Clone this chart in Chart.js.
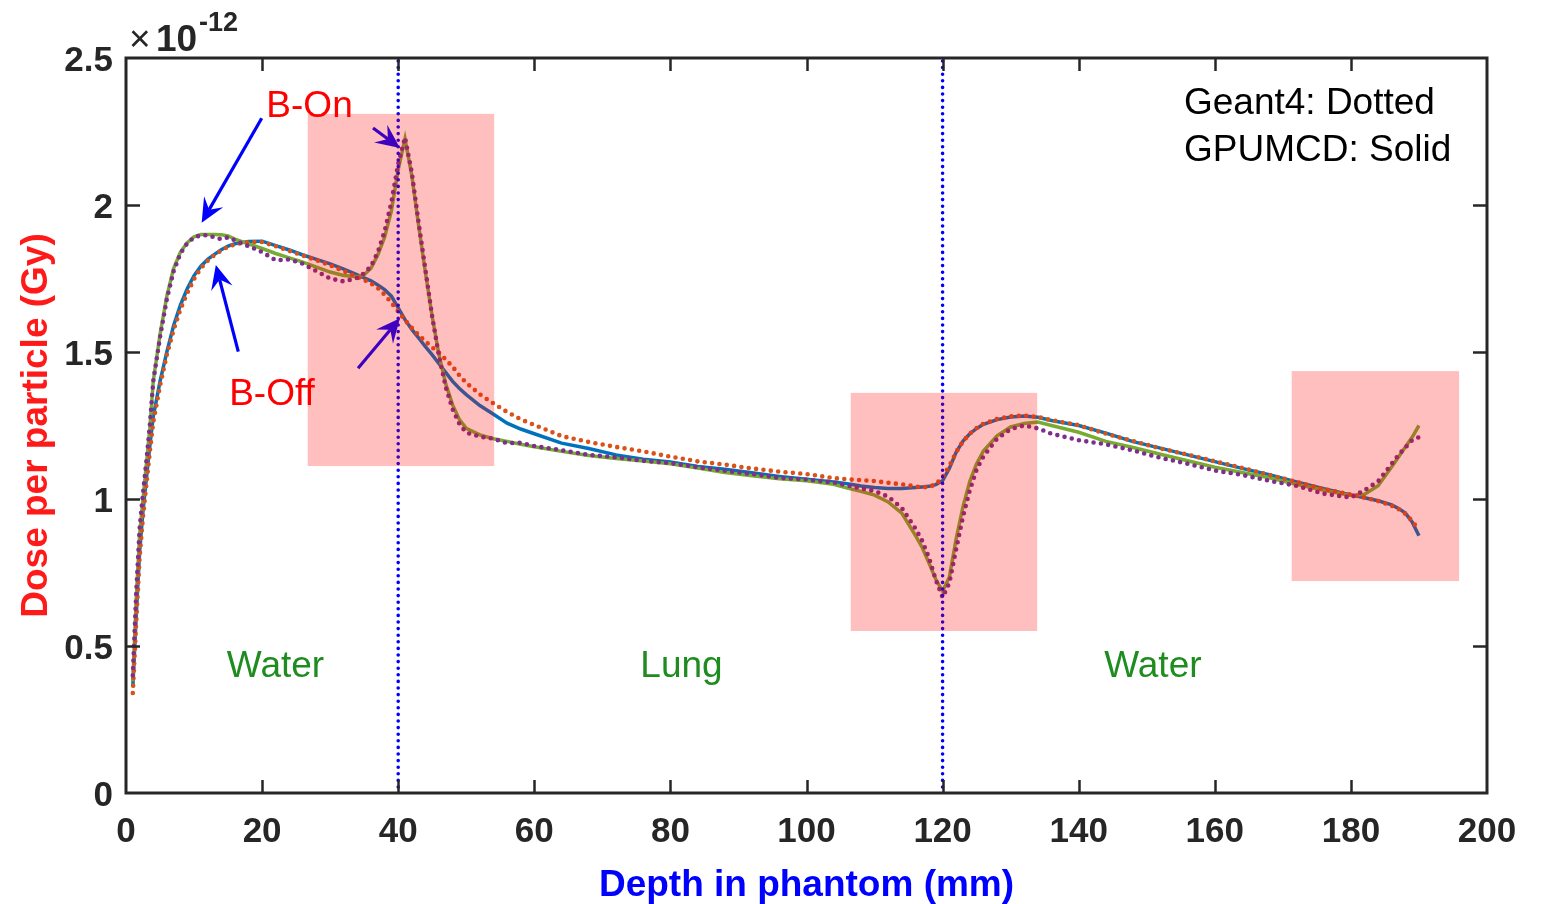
<!DOCTYPE html>
<html><head><meta charset="utf-8">
<script src="https://cdn.jsdelivr.net/npm/chart.js@4.4.1/dist/chart.umd.min.js"></script>
<style>html,body{margin:0;padding:0;background:#fff;} canvas{display:block;}</style>
</head><body>
<canvas id="c" width="1547" height="904"></canvas>
<script>
// ---------- data ----------
const depth = [1,1.5,2,2.5,3,3.5,4,
  5,6,7,8,9,10,11,12,13,14,15,16,
  18,20,22,24,26,28,30,32,34,
  35,36,37,38,39,40,41,42,43,44,45,46,47,48,49,50,
  52,54,56,58,60,
  64,68,72,76,80,84,88,92,96,100,104,
  106,108,110,112,114,116,
  117,118,119,120,121,122,123,124,125,126,
  128,130,132,134,136,
  140,144,148,152,156,160,164,168,172,176,180,
  182,184,186,
  187,188,189,190];

const bOffGpumcd = [0.36,0.60,0.82,0.96,1.07,1.18,1.28,
  1.40,1.50,1.59,1.66,1.715,1.76,1.792,1.815,1.832,1.848,1.86,1.868,
  1.876,1.877,1.862,1.847,1.83,1.815,1.80,1.782,1.762,
  1.752,1.742,1.728,1.712,1.69,1.65,1.61,1.577,1.548,1.518,1.49,1.46,1.43,1.40,1.376,1.355,
  1.318,1.288,1.258,1.238,1.222,
  1.19,1.172,1.15,1.135,1.126,1.111,1.101,1.089,1.077,1.067,1.058,
  1.052,1.044,1.039,1.036,1.036,1.039,
  1.041,1.043,1.049,1.062,1.105,1.160,1.197,1.222,1.24,1.254,
  1.270,1.279,1.282,1.278,1.267,
  1.25,1.224,1.195,1.173,1.150,1.127,1.104,1.083,1.058,1.035,1.014,
  1.004,0.994,0.98,
  0.968,0.952,0.922,0.875];

const bOffGeant4 = [0.34,0.58,0.80,0.94,1.05,1.16,1.26,
  1.385,1.49,1.575,1.645,1.70,1.748,1.785,1.81,1.83,1.845,1.858,1.866,
  1.874,1.874,1.86,1.844,1.828,1.812,1.795,1.775,1.755,
  1.745,1.733,1.718,1.695,1.668,1.638,1.608,1.582,1.558,1.536,1.516,1.497,1.474,1.45,1.42,1.395,
  1.356,1.325,1.296,1.271,1.252,
  1.214,1.194,1.177,1.162,1.144,1.128,1.117,1.104,1.093,1.085,1.071,
  1.067,1.064,1.061,1.055,1.05,1.043,
  1.04,1.041,1.05,1.074,1.112,1.16,1.196,1.222,1.241,1.256,
  1.272,1.281,1.284,1.279,1.268,
  1.251,1.222,1.197,1.172,1.151,1.128,1.106,1.082,1.058,1.034,1.015,
  1.005,0.993,0.977,
  0.966,0.950,0.925,0.895];

const bOnGpumcd = [0.38,0.66,0.88,1.00,1.12,1.24,1.40,
  1.56,1.69,1.785,1.84,1.872,1.892,1.90,1.90,1.90,1.899,1.895,1.884,
  1.868,1.852,1.835,1.82,1.806,1.789,1.772,1.76,1.756,
  1.763,1.785,1.83,1.89,1.98,2.12,2.225,2.10,1.93,1.77,1.62,1.49,1.39,1.32,1.27,1.24,
  1.218,1.205,1.196,1.186,1.178,
  1.162,1.148,1.138,1.129,1.12,1.105,1.09,1.079,1.069,1.062,1.05,
  1.037,1.026,1.013,0.99,0.952,0.876,
  0.835,0.782,0.727,0.686,0.735,0.865,0.974,1.06,1.12,1.163,
  1.215,1.245,1.257,1.262,1.25,
  1.227,1.196,1.175,1.152,1.13,1.108,1.09,1.072,1.05,1.03,1.012,
  1.016,1.045,1.11,
  1.143,1.177,1.21,1.25];

const bOnGeant4 = [0.40,0.68,0.90,1.02,1.13,1.25,1.40,
  1.55,1.68,1.775,1.835,1.87,1.89,1.897,1.897,1.89,1.884,1.89,1.88,
  1.86,1.84,1.812,1.815,1.80,1.775,1.75,1.74,1.752,
  1.768,1.792,1.84,1.91,2.01,2.14,2.23,2.11,1.94,1.78,1.62,1.485,1.38,1.305,1.255,1.226,
  1.212,1.205,1.19,1.191,1.18,
  1.166,1.15,1.142,1.13,1.122,1.108,1.096,1.085,1.072,1.066,1.056,
  1.046,1.036,1.027,1.008,0.97,0.90,
  0.858,0.80,0.725,0.665,0.715,0.83,0.94,1.03,1.10,1.145,
  1.205,1.238,1.25,1.24,1.222,
  1.20,1.186,1.165,1.14,1.12,1.097,1.082,1.062,1.045,1.018,1.005,
  1.03,1.06,1.12,
  1.15,1.175,1.20,1.21];

const xTicks = [0,20,40,60,80,100,120,140,160,180,200];
const yTicks = [0,0.5,1,1.5,2,2.5];
const yTickLabels = ['0','0.5','1','1.5','2','2.5'];
const interfaceDepths = [40,120];

// ---------- annotations (data coordinates) ----------
const highlightBoxes = [[26.7,54.1,1.112,2.31],[106.5,133.9,0.551,1.361],[171.3,195.9,0.721,1.435]];
const arrows = [
  {from:[19.94,2.295], to:[11.12,1.940]},
  {from:[16.5,1.501], to:[13.2,1.796]},
  {from:[36.3,2.262], to:[40.26,2.194]},
  {from:[34.1,1.445], to:[40.26,1.615]}
];
const labels = [
  {text:'B-On', at:[26.97,2.344], color:'#FF0000', align:'center'},
  {text:'B-Off', at:[21.45,1.364], color:'#FF0000', align:'center'},
  {text:'Water', at:[21.97,0.439], color:'#1E8C1E', align:'center'},
  {text:'Lung', at:[81.63,0.439], color:'#1E8C1E', align:'center'},
  {text:'Water', at:[150.9,0.439], color:'#1E8C1E', align:'center'},
  {text:'Geant4: Dotted', at:[155.47,2.354], color:'#000000', align:'left'},
  {text:'GPUMCD: Solid', at:[155.47,2.194], color:'#000000', align:'left'}
];

const FONT = "'Liberation Sans', Arial, Helvetica, sans-serif";
Chart.defaults.font.family = FONT;

function pts(ys){ return depth.map((d,i)=>({x:d, y:ys[i]})); }

function drawArrow(ctx,x0,y0,x1,y1,col){
  const ang=Math.atan2(y1-y0,x1-x0), L=24, W=11, N=15;
  const c=Math.cos(ang), s=Math.sin(ang);
  ctx.strokeStyle=col; ctx.fillStyle=col;
  ctx.lineWidth=3.2; ctx.lineCap='butt'; ctx.setLineDash([]);
  ctx.beginPath(); ctx.moveTo(x0,y0); ctx.lineTo(x1-c*N,y1-s*N); ctx.stroke();
  const bx=x1-c*L, by=y1-s*L;
  ctx.beginPath();
  ctx.moveTo(x1,y1);
  ctx.lineTo(bx-s*W, by+c*W);
  ctx.lineTo(x1-c*N, y1-s*N);
  ctx.lineTo(bx+s*W, by-c*W);
  ctx.closePath(); ctx.fill();
}

const deco = {
  id:'deco',
  afterDatasetsDraw(chart){
    const {ctx, chartArea:a, scales:{x,y}} = chart;
    ctx.save();
    // material interfaces
    ctx.strokeStyle='#0000FF'; ctx.lineWidth=3.6; ctx.setLineDash([0,6.6]); ctx.lineCap='round';
    interfaceDepths.forEach(v=>{
      const px=x.getPixelForValue(v);
      ctx.beginPath(); ctx.moveTo(px,a.top+3); ctx.lineTo(px,a.bottom); ctx.stroke();
    });
    // arrows
    arrows.forEach(ar=>drawArrow(ctx,
      x.getPixelForValue(ar.from[0]), y.getPixelForValue(ar.from[1]),
      x.getPixelForValue(ar.to[0]), y.getPixelForValue(ar.to[1]), '#0000FF'));
    // highlight patches (semi-transparent, drawn over the curves)
    ctx.fillStyle='rgba(255,0,0,0.25)';
    highlightBoxes.forEach(b=>{
      const x0=x.getPixelForValue(b[0]), x1=x.getPixelForValue(b[1]);
      const y0=y.getPixelForValue(b[3]), y1=y.getPixelForValue(b[2]);
      ctx.fillRect(x0,y0,x1-x0,y1-y0);
    });
    // axes box and inward ticks
    ctx.setLineDash([]);
    ctx.strokeStyle='#262626'; ctx.lineCap='butt';
    ctx.lineWidth=2.5;
    xTicks.forEach(v=>{
      if (v===xTicks[0] || v===xTicks[xTicks.length-1]) return;
      const px=Math.round(x.getPixelForValue(v))+0.5;
      ctx.beginPath(); ctx.moveTo(px,a.bottom); ctx.lineTo(px,a.bottom-13); ctx.stroke();
      ctx.beginPath(); ctx.moveTo(px,a.top); ctx.lineTo(px,a.top+13); ctx.stroke();
    });
    yTicks.forEach(v=>{
      if (v===yTicks[0] || v===yTicks[yTicks.length-1]) return;
      const py=Math.round(y.getPixelForValue(v))+0.5;
      ctx.beginPath(); ctx.moveTo(a.left,py); ctx.lineTo(a.left+14,py); ctx.stroke();
      ctx.beginPath(); ctx.moveTo(a.right,py); ctx.lineTo(a.right-14,py); ctx.stroke();
    });
    ctx.lineWidth=3;
    ctx.strokeRect(a.left,a.top,a.right-a.left,a.bottom-a.top);
    // text labels
    ctx.textBaseline='middle';
    ctx.font='37px '+FONT;
    labels.forEach(l=>{
      ctx.fillStyle=l.color; ctx.textAlign=l.align;
      ctx.fillText(l.text, x.getPixelForValue(l.at[0]), y.getPixelForValue(l.at[1])+3);
    });
    // exponent
    ctx.fillStyle='#262626'; ctx.textAlign='left'; ctx.textBaseline='alphabetic';
    ctx.font='37px '+FONT;
    ctx.fillText('\u00D7', a.left+3, a.top-7);
    ctx.font='bold 37px '+FONT;
    ctx.fillText('10', a.left+30, a.top-7);
    ctx.font='bold 27px '+FONT;
    ctx.fillText('-12', a.left+73, a.top-27);
    ctx.restore();
  }
};

const solid = (col,ord)=>({borderColor:col, borderWidth:3.5, pointRadius:0, tension:0, fill:false, order:ord});
const dotted = (col,ord)=>({borderColor:col, borderWidth:4.6, borderDash:[0,7.4], borderCapStyle:'round', pointRadius:0, tension:0, fill:false, order:ord});

new Chart(document.getElementById('c'), {
  type:'line',
  data:{datasets:[
    Object.assign({label:'B-Off GPUMCD', data:pts(bOffGpumcd)}, solid('#0072BD',4)),
    Object.assign({label:'B-On GPUMCD', data:pts(bOnGpumcd)}, solid('#77AC30',3)),
    Object.assign({label:'B-Off Geant4', data:pts(bOffGeant4)}, dotted('#D95319',2)),
    Object.assign({label:'B-On Geant4', data:pts(bOnGeant4)}, dotted('#7E2F8E',1))
  ]},
  options:{
    responsive:false, animation:false, devicePixelRatio:1,
    layout:{padding:{left:0,right:60,top:58,bottom:0}},
    plugins:{legend:{display:false}, tooltip:{enabled:false}},
    scales:{
      x:{type:'linear', min:0, max:200,
        afterBuildTicks:s=>{s.ticks=xTicks.map(v=>({value:v}));},
        grid:{display:false, drawTicks:false}, border:{display:false},
        ticks:{font:{family:FONT,size:35,weight:'bold'}, color:'#262626', padding:18, maxRotation:0, autoSkip:false, callback:v=>String(v)},
        title:{display:true, text:'Depth in phantom (mm)', color:'#0000FF', font:{family:FONT,size:37,weight:'bold',lineHeight:1}, padding:{top:0,bottom:0}},
        afterFit:s=>{s.height=111;}
      },
      y:{type:'linear', min:0, max:2.5,
        afterBuildTicks:s=>{s.ticks=yTicks.map(v=>({value:v}));},
        grid:{display:false, drawTicks:false}, border:{display:false},
        ticks:{font:{family:FONT,size:35,weight:'bold'}, color:'#262626', padding:13, labelOffset:3, autoSkip:false, callback:(v,i)=>yTickLabels[i]},
        title:{display:true, text:'Dose per particle (Gy)', color:'#FF1A1A', font:{family:FONT,size:37,weight:'bold',lineHeight:1}, padding:{top:18,bottom:0}},
        afterFit:s=>{s.width=126;}
      }
    }
  },
  plugins:[deco]
});
</script>
</body></html>
